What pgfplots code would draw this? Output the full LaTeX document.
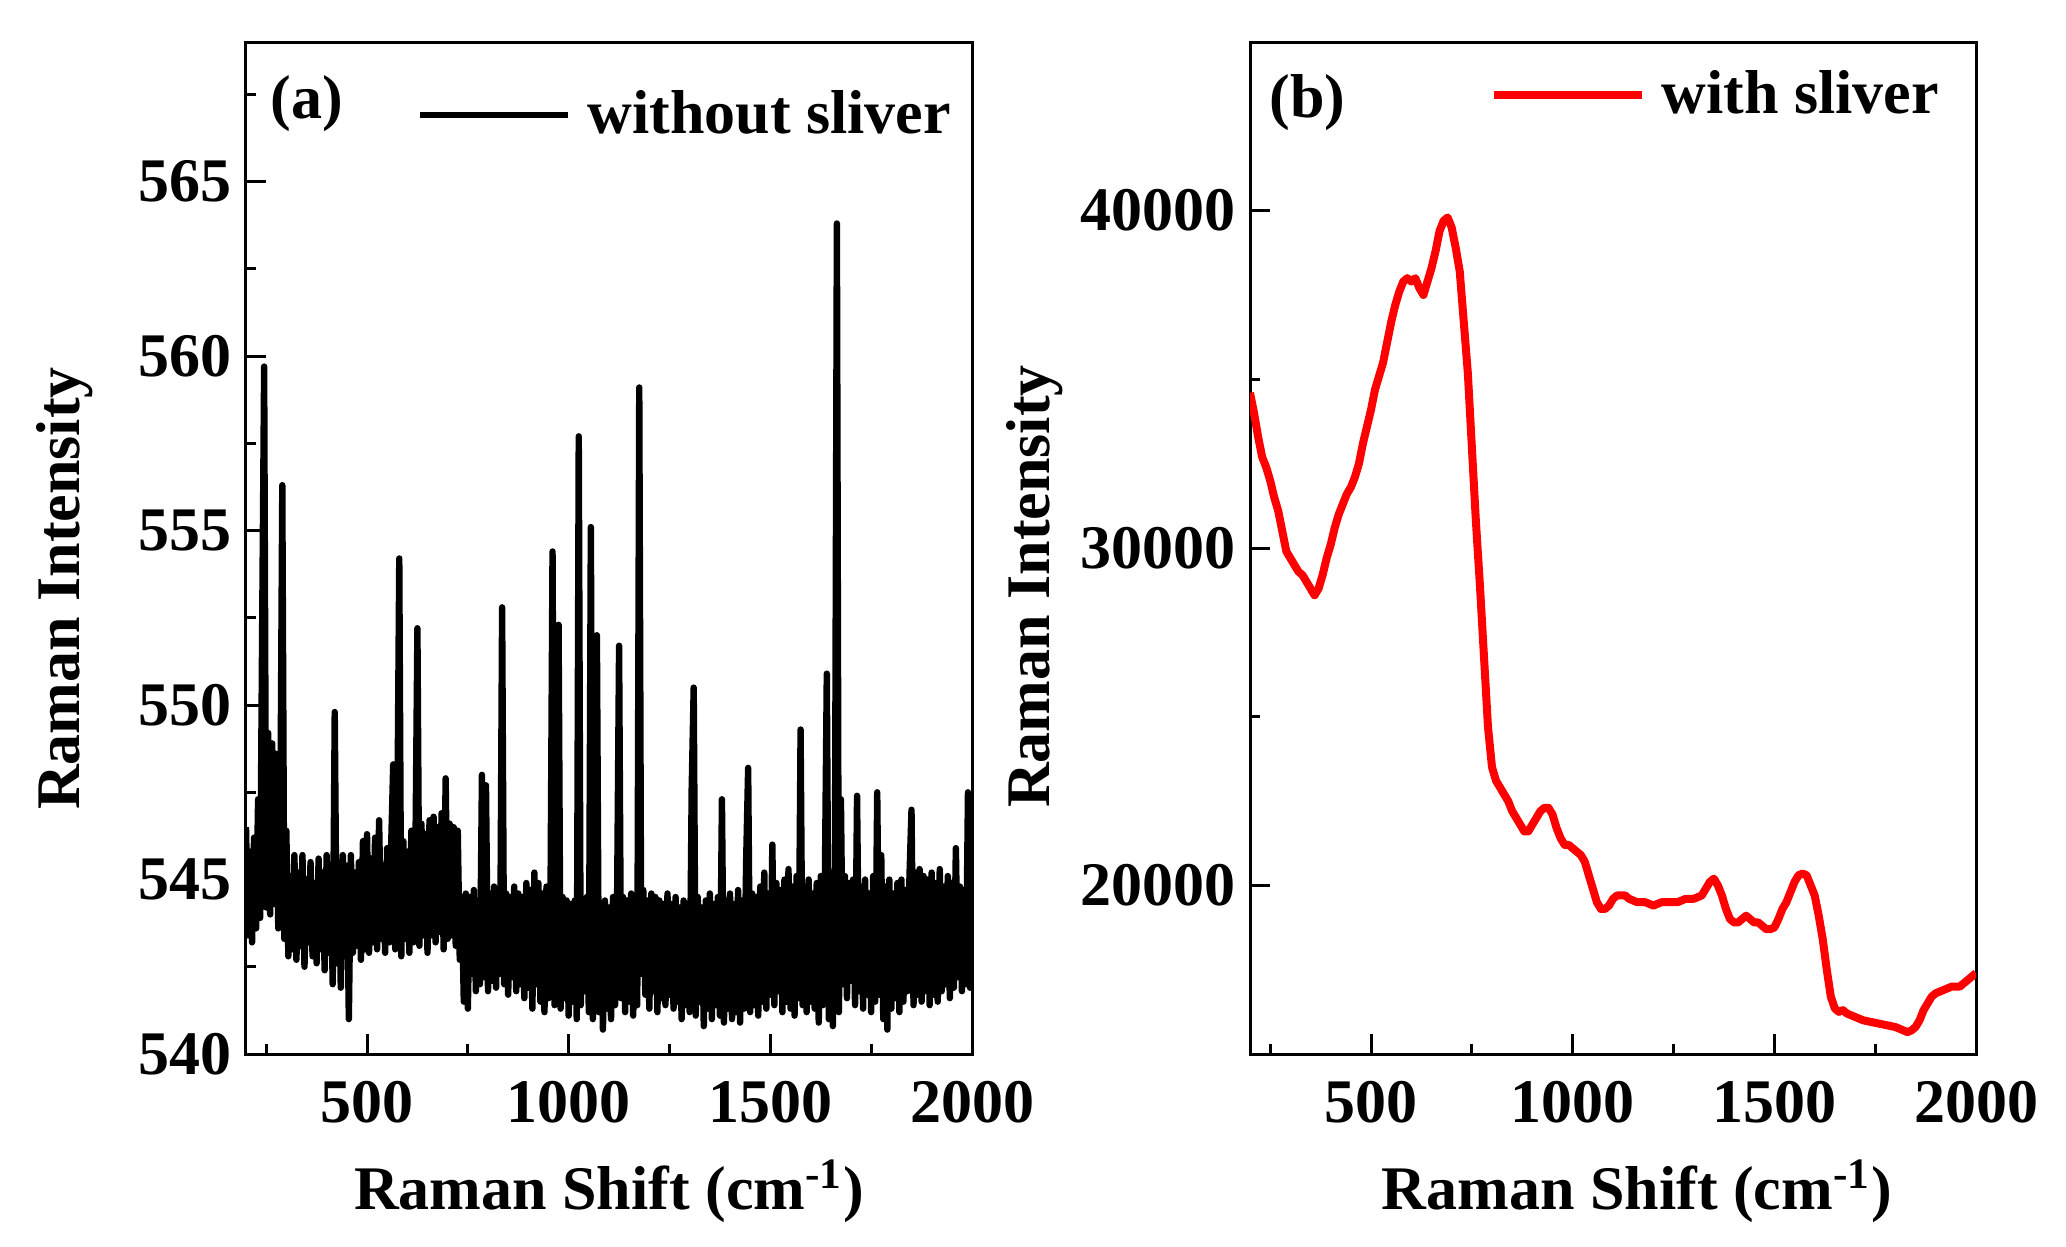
\documentclass[border=0pt]{standalone}
\usepackage{fontspec}
\setmainfont{Liberation Serif}
\usepackage{pgfplots}
\pgfplotsset{compat=1.18}
\definecolor{ramanred}{RGB}{255,0,0}
\newcommand\bigbf{\fontsize{15.5}{18}\selectfont\bfseries}

\pgfplotsset{
  raman/.style={
    scale only axis, width=181.5pt, height=253pt,
    anchor=south west,
    xmin=200, xmax=2000,
    xtick={500,1000,1500,2000}, xticklabels={500,1000,1500,2000},
    minor xtick={250,750,1250,1750},
    scaled ticks=false,
    tick align=inside, tick pos=left,
    major tick length=5pt, minor tick length=2.5pt,
    axis line style={line width=0.75pt},
    every tick/.style={black, line width=0.75pt},
    tick label style={font=\bigbf},
    /pgf/number format/assume math mode=true,
    xticklabel style={yshift=-3.3pt},
    label style={font=\bigbf},
    xlabel={Raman Shift (cm\textsuperscript{-1})},
    ylabel={Raman Intensity},
    xlabel style={at={(axis description cs:0.5,-0.154)}, anchor=base},
    legend cell align=left,
    legend style={draw=none, fill=none, inner sep=0pt, outer sep=0pt,
      font=\bigbf, nodes={inner sep=0pt},
      /tikz/every odd column/.append style={column sep=4pt}},
    legend image code/.code={\draw[##1] (0pt,0pt) -- (37pt,0pt);},
  }
}

\begin{document}
\begin{tikzpicture}
\path[use as bounding box] (0,0) rectangle (516.5pt,311.5pt);

% (a) without sliver
\begin{axis}[raman, at={(61.5pt,48pt)},
  ymin=540, ymax=569,
  ytick={540,545,550,555,560,565},
  yticklabels={540,545,550,555,560,565},
  minor ytick={542.5,547.5,552.5,557.5,562.5,567.5},
  ylabel style={at={(axis description cs:-0.250,0.46)}, anchor=center},
  legend style={at={(axis description cs:0.971,0.928)}, anchor=east},
]
\addplot[black, line width=1.6pt, line join=round] coordinates {
(200,546.5)(205,543.4)(210,545.8)(215,543.2)(220,546.2)(225,543.6)(230,547.3)(235,543.9)
(240,552.1)(245,559.7)(250,544.2)(255,549.2)(260,544.0)(265,548.9)(270,544.3)(275,548.6)
(280,543.6)(285,546.5)(290,556.3)(295,543.3)(300,546.4)(305,542.8)(310,545.1)(315,543.0)
(320,545.7)(325,542.7)(330,545.2)(335,543.1)(340,545.7)(345,542.5)(350,545.0)(355,543.2)
(360,545.5)(365,542.8)(370,544.9)(375,542.6)(380,545.6)(385,543.0)(390,545.2)(395,542.4)
(400,545.7)(405,542.9)(410,545.3)(415,542.0)(420,549.8)(425,542.6)(430,545.5)(435,541.9)
(440,545.7)(445,542.8)(450,545.4)(455,541.0)(460,545.7)(465,542.9)(470,545.2)(475,543.1)
(480,545.5)(485,542.7)(490,546.1)(495,543.0)(500,546.3)(505,542.9)(510,545.6)(515,543.2)
(520,546.2)(525,543.0)(530,546.7)(535,543.3)(540,545.4)(545,542.9)(550,545.9)(555,543.2)
(560,546.0)(565,548.3)(570,543.0)(575,546.3)(580,554.2)(585,542.8)(590,546.1)(595,543.3)
(600,545.8)(605,542.9)(610,546.4)(615,543.2)(620,545.7)(625,552.2)(630,543.1)(635,546.6)
(640,543.4)(645,546.3)(650,542.9)(655,546.7)(660,543.4)(665,546.8)(670,543.2)(675,546.5)
(680,543.5)(685,546.9)(690,543.0)(695,547.9)(700,543.3)(705,546.6)(710,543.4)(715,546.5)
(720,543.1)(725,546.4)(730,542.7)(735,544.5)(740,541.5)(745,544.6)(750,541.3)(755,544.5)
(760,542.3)(765,544.7)(770,541.8)(775,544.4)(780,542.0)(785,548.0)(790,542.2)(795,547.7)
(800,541.8)(805,544.6)(810,542.1)(815,544.8)(820,541.9)(825,544.5)(830,542.3)(835,552.8)
(840,542.0)(845,544.6)(850,541.7)(855,544.5)(860,542.2)(865,544.8)(870,541.8)(875,544.6)
(880,542.0)(885,544.5)(890,541.6)(895,544.9)(900,541.9)(905,544.7)(910,541.3)(915,545.2)
(920,542.0)(925,544.9)(930,541.5)(935,544.6)(940,541.2)(945,544.8)(950,541.6)(955,544.5)
(960,554.4)(965,541.4)(970,544.3)(975,552.3)(980,541.3)(985,544.5)(990,541.6)(995,544.4)
(1000,541.1)(1005,544.3)(1010,541.5)(1015,544.4)(1020,541.0)(1025,557.7)(1030,541.4)(1035,544.3)
(1040,541.8)(1045,544.5)(1050,541.2)(1055,555.1)(1060,541.0)(1065,544.4)(1070,552.0)(1075,541.2)
(1080,544.3)(1085,540.7)(1090,544.4)(1095,541.3)(1100,544.2)(1105,541.0)(1110,544.5)(1115,541.4)
(1120,544.3)(1125,551.7)(1130,541.6)(1135,544.5)(1140,541.2)(1145,544.4)(1150,541.5)(1155,544.6)
(1160,541.1)(1165,544.5)(1170,541.4)(1175,559.1)(1180,542.3)(1185,544.7)(1190,541.7)(1195,544.4)
(1200,541.3)(1205,544.6)(1210,541.8)(1215,544.5)(1220,541.2)(1225,544.4)(1230,541.6)(1235,544.3)
(1240,541.4)(1245,544.6)(1250,541.7)(1255,544.3)(1260,541.3)(1265,544.5)(1270,541.5)(1275,544.2)
(1280,541.0)(1285,544.4)(1290,541.4)(1295,544.3)(1300,541.2)(1305,547.6)(1310,550.5)(1315,541.1)
(1320,544.5)(1325,541.5)(1330,544.2)(1335,540.8)(1340,544.4)(1345,541.3)(1350,544.6)(1355,541.0)
(1360,544.3)(1365,541.4)(1370,544.5)(1375,541.1)(1380,547.3)(1385,540.9)(1390,544.4)(1395,541.3)
(1400,544.6)(1405,541.0)(1410,544.3)(1415,541.2)(1420,544.7)(1425,540.9)(1430,544.4)(1435,541.3)
(1440,545.5)(1445,548.2)(1450,541.2)(1455,544.6)(1460,541.4)(1465,544.5)(1470,541.1)(1475,544.8)
(1480,541.5)(1485,545.2)(1490,541.3)(1495,544.6)(1500,541.7)(1505,546.0)(1510,541.4)(1515,544.9)
(1520,541.8)(1525,544.7)(1530,541.2)(1535,545.0)(1540,541.5)(1545,545.3)(1550,541.3)(1555,544.8)
(1560,541.1)(1565,545.1)(1570,541.6)(1575,549.3)(1580,541.4)(1585,544.8)(1590,541.2)(1595,545.0)
(1600,541.5)(1605,544.6)(1610,541.3)(1615,544.9)(1620,540.9)(1625,545.1)(1630,541.4)(1635,544.7)
(1640,550.9)(1645,541.0)(1650,545.2)(1655,540.8)(1660,544.6)(1665,563.8)(1670,541.2)(1675,547.3)
(1680,542.0)(1685,545.1)(1690,541.6)(1695,544.9)(1700,542.1)(1705,545.0)(1710,541.4)(1715,547.4)
(1720,541.8)(1725,544.8)(1730,541.3)(1735,545.0)(1740,541.7)(1745,544.6)(1750,541.2)(1755,545.1)
(1760,541.5)(1765,547.5)(1770,541.7)(1775,545.7)(1780,541.0)(1785,544.8)(1790,540.7)(1795,545.0)
(1800,541.3)(1805,544.6)(1810,541.6)(1815,544.9)(1820,541.2)(1825,545.0)(1830,541.5)(1835,544.7)
(1840,541.8)(1845,545.1)(1850,547.0)(1855,541.4)(1860,545.2)(1865,541.7)(1870,545.3)(1875,541.5)
(1880,545.1)(1885,541.8)(1890,545.0)(1895,541.4)(1900,545.2)(1905,541.7)(1910,544.9)(1915,541.5)
(1920,545.3)(1925,541.8)(1930,544.8)(1935,542.0)(1940,545.1)(1945,541.6)(1950,544.9)(1955,541.9)
(1960,545.9)(1965,542.2)(1970,544.8)(1975,541.8)(1980,544.7)(1985,542.0)(1990,547.5)(1995,541.9)
(2000,544.5)
};
\addlegendentry{without sliver}
\node[font=\bigbf, anchor=west, inner sep=0pt] at (axis description cs:0.033,0.939) {(a)};
\end{axis}

% (b) with sliver
\begin{axis}[raman, at={(312.5pt,48pt)},
  ymin=15000, ymax=45000,
  ytick={20000,30000,40000},
  yticklabels={20000,30000,40000},
  minor ytick={25000,35000},
  ylabel style={at={(axis description cs:-0.297,0.462)}, anchor=center},
  xlabel style={at={(axis description cs:0.533,-0.154)}},
  legend style={at={(axis description cs:0.949,0.948)}, anchor=east},
]
\addplot[ramanred, line width=2pt, line join=round] coordinates {
(200,34600)(210,34000)(220,33300)(230,32700)(240,32400)(250,32000)(260,31500)(270,31100)
(280,30500)(290,29900)(300,29700)(310,29500)(320,29300)(330,29200)(340,29000)(350,28800)
(360,28600)(370,28800)(380,29200)(390,29700)(400,30100)(410,30600)(420,31000)(430,31300)
(440,31600)(450,31800)(460,32100)(470,32500)(480,33100)(490,33600)(500,34100)(510,34700)
(520,35100)(530,35500)(540,36100)(550,36700)(560,37200)(570,37600)(580,37900)(590,38000)
(600,37900)(610,38000)(620,37700)(630,37500)(640,37900)(650,38300)(660,38800)(670,39400)
(680,39700)(690,39800)(700,39500)(710,38900)(720,38200)(730,36700)(740,35200)(750,33000)
(760,30800)(770,28900)(780,26800)(790,24700)(800,23500)(810,23100)(820,22900)(830,22700)
(840,22500)(850,22200)(860,22000)(870,21800)(880,21600)(890,21600)(900,21800)(910,22000)
(920,22200)(930,22300)(940,22300)(950,22100)(960,21700)(970,21400)(980,21200)(990,21200)
(1000,21100)(1010,21000)(1020,20900)(1030,20700)(1040,20300)(1050,19900)(1060,19500)(1070,19300)
(1080,19300)(1090,19400)(1100,19600)(1110,19700)(1120,19700)(1130,19700)(1140,19600)(1160,19500)
(1180,19500)(1200,19400)(1220,19500)(1240,19500)(1260,19500)(1280,19600)(1300,19600)(1320,19700)
(1330,19900)(1340,20100)(1350,20200)(1360,20000)(1370,19700)(1380,19300)(1390,19000)(1400,18900)
(1410,18900)(1420,19000)(1430,19100)(1440,19000)(1450,18900)(1460,18900)(1470,18800)(1480,18700)
(1490,18700)(1500,18750)(1510,19000)(1520,19300)(1530,19500)(1540,19800)(1550,20100)(1560,20300)
(1570,20350)(1580,20300)(1590,20000)(1600,19700)(1610,19100)(1620,18400)(1630,17500)(1640,16700)
(1650,16350)(1660,16250)(1670,16300)(1680,16200)(1700,16100)(1720,16000)(1740,15950)(1760,15900)
(1780,15850)(1800,15800)(1820,15700)(1830,15650)(1840,15700)(1850,15800)(1860,16000)(1870,16300)
(1880,16500)(1890,16700)(1900,16800)(1920,16900)(1940,17000)(1960,17000)(1980,17200)(2000,17400)
};
\addlegendentry{with sliver}
\node[font=\bigbf, anchor=west, inner sep=0pt] at (axis description cs:0.026,0.940) {(b)};
\end{axis}
\end{tikzpicture}
\end{document}
